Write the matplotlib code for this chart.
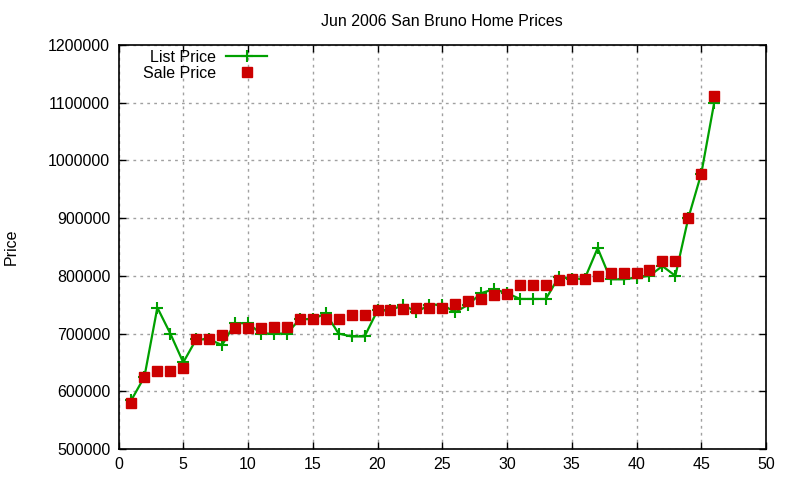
import matplotlib.pyplot as plt
from matplotlib.lines import Line2D

plt.rcParams['font.family'] = ['Liberation Sans', 'DejaVu Sans']

# house number in the month's sales list
house = list(range(1, 47))

list_price = [585000, 625000, 745000, 700000, 650000, 690000, 690000, 680000, 718000, 718000,
              700000, 700000, 700000, 725000, 725000, 735000, 700000, 695000, 695000, 740000,
              740000, 750000, 737000, 750000, 750000, 737000, 750000, 770000, 777000, 770000,
              760000, 760000, 760000, 798000, 795000, 795000, 848000, 794000, 794000, 797000,
              800000, 817000, 800000, 900000, 977000, 1100000]

sale_price = [580000, 625000, 635000, 635000, 640000, 690000, 690000, 697000, 710000, 710000,
              710000, 712000, 712000, 725000, 725000, 725000, 725000, 733000, 733000, 740000,
              740000, 742000, 745000, 745000, 745000, 752000, 757000, 760000, 767000, 769000,
              785000, 785000, 785000, 792000, 795000, 795000, 800000, 805000, 805000, 805000,
              810000, 825000, 825000, 900000, 977000, 1111000]

green = '#00a000'
red = '#cc0000'

fig = plt.figure(figsize=(8, 4.8), dpi=100)
ax = fig.add_axes([118.5 / 800, 31 / 480, (766 - 118.5) / 800, (449 - 45) / 480])

ax.plot(house, list_price, color=green, lw=1.6, marker='+', ms=8, mew=1.5)
ax.plot(house, sale_price, color=red, ls='none', marker='s', ms=7)

ax.set_xlim(0, 50)
ax.set_ylim(500000, 1200000)
ax.set_xticks(range(0, 51, 5))
ax.set_yticks(range(500000, 1200001, 100000))
ax.ticklabel_format(axis='y', style='plain')
ax.tick_params(direction='in', top=True, right=True, labelsize=11.5, length=5, width=1, pad=6)
ax.grid(True, color='#a0a0a0', ls=(0, (2, 3)), lw=1)
for s in ax.spines.values():
    s.set_linewidth(1.2)

ax.set_title('Jun 2006 San Bruno Home Prices', fontsize=11.5, pad=14)
ax.set_ylabel('Price', fontsize=11.5, labelpad=21)

handles = [Line2D([], [], color=green, lw=1.6, marker='+', ms=8, mew=1.5),
           Line2D([], [], color=red, ls='none', marker='s', ms=7)]
ax.legend(handles, ['List Price', 'Sale Price'], loc='upper left', bbox_to_anchor=(0.016, 1.023),
          frameon=False, markerfirst=False, handlelength=2.6, fontsize=11.5,
          labelspacing=0.05, handletextpad=0.6)

fig.savefig('out.png', dpi=100)
